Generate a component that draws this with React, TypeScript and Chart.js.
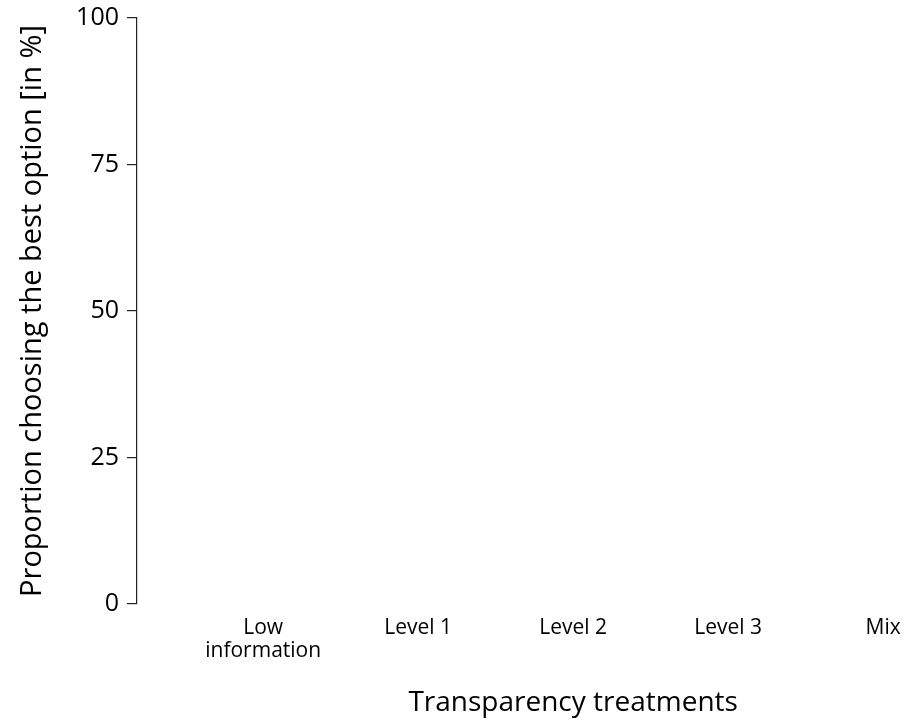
import React, { useEffect, useRef } from "react";
import { Chart, registerables } from "chart.js";

Chart.register(...registerables);

const categories: (string | string[])[] = [["Low", "information"], "Level 1", "Level 2", "Level 3", "Mix"];
const categoryPositions = [1, 2, 3, 4, 5];
const proportionValues: (number | null)[] = [null, null, null, null, null];
const yTicks = [0, 25, 50, 75, 100];
const xTitle = "Transparency treatments";
const yTitle = "Proportion choosing the best option [in %]";

const FONT = "'Open Sans', Lato, sans-serif";

const xTitlePlugin = {
  id: "xTitleCentered",
  afterDraw(chart: any) {
    const xs = chart.scales.x;
    const mid = (categoryPositions[0] + categoryPositions[categoryPositions.length - 1]) / 2;
    const cx = xs.getPixelForValue(mid);
    const ctx = chart.ctx;
    ctx.save();
    ctx.font = `28px ${FONT}`;
    ctx.fillStyle = "#000";
    ctx.textAlign = "center";
    ctx.textBaseline = "middle";
    ctx.fillText(xTitle, cx, xs.bottom - 16);
    ctx.restore();
  },
};

export default function App() {
  const ref = useRef<HTMLCanvasElement>(null);
  useEffect(() => {
    document.body.style.margin = "0";
    const ctx = ref.current!;
    const chart = new Chart(ctx, {
      type: "scatter",
      data: {
        datasets: [
          {
            label: "Proportion",
            data: categoryPositions.map((x, i) => ({ x, y: proportionValues[i] as any })),
            backgroundColor: "#000",
          },
        ],
      },
      plugins: [xTitlePlugin],
      options: {
        animation: false,
        responsive: false,
        layout: { padding: { top: 18, right: 0, left: 0, bottom: 0 } },
        plugins: { legend: { display: false }, tooltip: { enabled: false } },
        scales: {
          x: {
            type: "linear",
            min: 0.186,
            max: 5.141,
            grid: { display: false, drawTicks: false },
            border: { display: false },
            afterBuildTicks: (scale: any) => {
              scale.ticks = categoryPositions.map((v) => ({ value: v }));
            },
            afterFit: (scale: any) => {
              scale.height = 115;
              scale.paddingLeft = 0;
              scale.paddingRight = 0;
            },
            ticks: {
              autoSkip: false,
              maxRotation: 0,
              padding: 12,
              color: "#000",
              font: { family: FONT, size: 21, lineHeight: 1.1 },
              callback: (v: any) => {
                const i = categoryPositions.indexOf(Number(v));
                return i >= 0 ? categories[i] : "";
              },
            },
            title: { display: false },
          },
          y: {
            type: "linear",
            min: 0,
            max: 100,
            afterBuildTicks: (scale: any) => {
              scale.ticks = yTicks.map((v) => ({ value: v }));
            },
            afterFit: (scale: any) => {
              scale.width = 137;
              scale.paddingTop = 0;
              scale.paddingBottom = 0;
            },
            grid: {
              display: true,
              drawOnChartArea: false,
              drawTicks: true,
              tickLength: 10,
              color: "#222",
              lineWidth: 1.2,
            },
            border: { display: true, color: "#222", width: 1.2 },
            ticks: {
              padding: 8,
              color: "#000",
              font: { family: FONT, size: 25 },
            },
            title: {
              display: true,
              text: yTitle,
              color: "#000",
              font: { family: FONT, size: 29 },
              padding: { top: 15, bottom: 0 },
            },
          },
        },
      },
    });
    return () => chart.destroy();
  }, []);
  return (
    <div style={{ position: "absolute", left: 0, top: 0, width: 910, height: 719 }}>
      <canvas ref={ref} width={910} height={719} style={{ display: "block" }} />
    </div>
  );
}
